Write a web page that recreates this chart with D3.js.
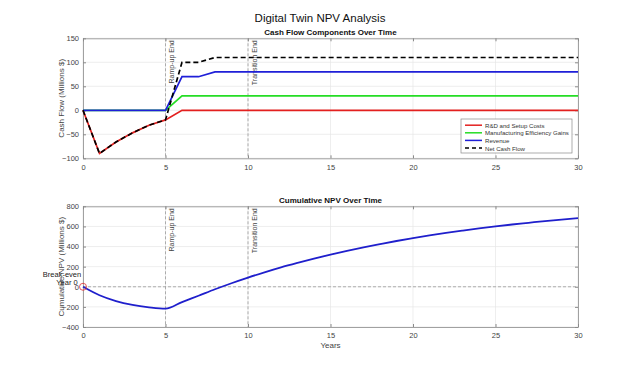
<!DOCTYPE html>
<html><head><meta charset="utf-8">
<script src="https://cdn.jsdelivr.net/npm/d3@7"></script>
<style>body{margin:0;background:#fff;} text{font-family:"Liberation Sans",Arial,Helvetica,sans-serif;}</style>
</head><body>
<svg id="c" width="640" height="367"></svg>
<script>
const years = d3.range(0, 31);
const rdCosts    = [0,-90,-66,-47,-31,-20,0,0,0,0,0,0,0,0,0,0,0,0,0,0,0,0,0,0,0,0,0,0,0,0,0];
const mfgGains   = [0,0,0,0,0,0,30,30,30,30,30,30,30,30,30,30,30,30,30,30,30,30,30,30,30,30,30,30,30,30,30];
const revenue    = [0,0,0,0,0,0,70,70,80,80,80,80,80,80,80,80,80,80,80,80,80,80,80,80,80,80,80,80,80,80,80];
const netCash    = [0,-90,-66,-47,-31,-20,100,100,110,110,110,110,110,110,110,110,110,110,110,110,110,110,110,110,110,110,110,110,110,110,110];
const cumNPV     = [0,-84,-142,-180,-204,-218,-152,-89,-25,35,91,143,192,237,280,320,357,392,424,455,483,510,535,558,580,600,619,636,653,668,683];
const xTicks = [0,5,10,15,20,25,30];
const yTicksTop = [-100,-50,0,50,100,150];
const yTicksBot = [-400,-200,0,200,400,600,800];
const markers = [{x:5,label:"Ramp-up End"},{x:10,label:"Transition End"}];
const seriesTop = [
  {name:"R&D and Setup Costs", values:rdCosts, color:"#e3201f", dash:null},
  {name:"Manufacturing Efficiency Gains", values:mfgGains, color:"#25dd25", dash:null},
  {name:"Revenue", values:revenue, color:"#1f1fd8", dash:null},
  {name:"Net Cash Flow", values:netCash, color:"#000", dash:"5,3"}
];

const svg = d3.select("#c");
const L = 83, R = 578;
const x = d3.scaleLinear().domain([0,30]).range([L,R]);

svg.append("text").attr("x",320).attr("y",22).attr("text-anchor","middle")
  .attr("font-size",11.5).attr("fill","#111").text("Digital Twin NPV Analysis");

function panel(top, bottom, yDomain, yTicks, title, ylabel, showXLabel){
  const y = d3.scaleLinear().domain(yDomain).range([bottom, top]);
  const g = svg.append("g");
  g.selectAll(".gx").data(xTicks).join("line").attr("x1",d=>x(d)).attr("x2",d=>x(d))
    .attr("y1",top).attr("y2",bottom).attr("stroke","#e6e6e6").attr("stroke-width",0.7);
  g.selectAll(".gy").data(yTicks).join("line").attr("y1",d=>y(d)).attr("y2",d=>y(d))
    .attr("x1",L).attr("x2",R).attr("stroke","#e6e6e6").attr("stroke-width",0.7);
  const ax = g.append("g").attr("transform",`translate(0,${bottom})`)
    .call(d3.axisBottom(x).tickValues(xTicks).tickSizeInner(-3).tickSizeOuter(0).tickPadding(6));
  const ay = g.append("g").attr("transform",`translate(${L},0)`)
    .call(d3.axisLeft(y).tickValues(yTicks).tickSizeInner(-3).tickSizeOuter(0).tickPadding(4));
  const ax2 = g.append("g").attr("transform",`translate(0,${top})`)
    .call(d3.axisTop(x).tickValues(xTicks).tickSizeInner(-3).tickSizeOuter(0).tickFormat(""));
  const ay2 = g.append("g").attr("transform",`translate(${R},0)`)
    .call(d3.axisRight(y).tickValues(yTicks).tickSizeInner(-3).tickSizeOuter(0).tickFormat(""));
  [ax,ay,ax2,ay2].forEach(a=>{
    a.select(".domain").attr("stroke","#8a8a8a").attr("stroke-width",0.8);
    a.selectAll(".tick line").attr("stroke","#8a8a8a");
    a.selectAll("text").attr("font-size",7.5).attr("fill","#444").attr("font-family",'"Liberation Sans",Arial,sans-serif');
  });
  g.append("text").attr("x",(L+R)/2).attr("y",top-3).attr("text-anchor","middle")
    .attr("font-size",8).attr("font-weight","bold").attr("fill","#111").text(title);
  g.append("text").attr("transform",`translate(${61},${(top+bottom)/2}) rotate(-90)`)
    .attr("text-anchor","middle").attr("dominant-baseline","central")
    .attr("font-size",8).attr("fill","#444").text(ylabel);
  if(showXLabel){
    g.append("text").attr("x",(L+R)/2).attr("y",bottom+21).attr("text-anchor","middle")
      .attr("font-size",8).attr("fill","#444").text("Years");
  }
  markers.forEach(m=>{
    g.append("line").attr("x1",x(m.x)).attr("x2",x(m.x)).attr("y1",top).attr("y2",bottom)
      .attr("stroke","#9a9a9a").attr("stroke-width",0.8).attr("stroke-dasharray","3,2");
    g.append("text").attr("transform",`translate(${x(m.x)+6},${top+2}) rotate(-90)`)
      .attr("text-anchor","end").attr("dominant-baseline","central")
      .attr("font-size",7).attr("fill","#444").text(m.label);
  });
  return {g,y};
}

const P1 = panel(38.3, 158.3, [-100,150], yTicksTop, "Cash Flow Components Over Time", "Cash Flow (Millions $)", false);
const line1 = d3.line().x((d,i)=>x(years[i])).y(d=>P1.y(d));
seriesTop.forEach(s=>{
  P1.g.append("path").attr("d",line1(s.values)).attr("fill","none")
    .attr("stroke",s.color).attr("stroke-width",1.7).attr("stroke-dasharray",s.dash);
});
const lg = P1.g.append("g");
lg.append("rect").attr("x",461).attr("y",119).attr("width",111).attr("height",34)
  .attr("fill","#fff").attr("stroke","#8a8a8a").attr("stroke-width",0.7);
seriesTop.forEach((s,i)=>{
  const yy = 125.2 + i*7.6;
  lg.append("line").attr("x1",465).attr("x2",482).attr("y1",yy).attr("y2",yy)
    .attr("stroke",s.color).attr("stroke-width",1.5).attr("stroke-dasharray",s.dash?"4,3":null);
  lg.append("text").attr("x",485).attr("y",yy).attr("dominant-baseline","central")
    .attr("font-size",6.1).attr("fill","#333").text(s.name);
});

const P2 = panel(206.3, 327, [-400,800], yTicksBot, "Cumulative NPV Over Time", "Cumulative NPV (Millions $)", true);
P2.g.append("line").attr("x1",L).attr("x2",R).attr("y1",P2.y(0)).attr("y2",P2.y(0))
  .attr("stroke","#9a9a9a").attr("stroke-width",0.8).attr("stroke-dasharray","3,2");
P2.g.append("path").attr("d",d3.line().x((d,i)=>x(years[i])).y(d=>P2.y(d)).curve(d3.curveMonotoneX)(cumNPV))
  .attr("fill","none").attr("stroke","#1f1fcc").attr("stroke-width",1.8);
P2.g.append("circle").attr("cx",x(0)).attr("cy",P2.y(0)).attr("r",3.5)
  .attr("fill","none").attr("stroke","#e03030").attr("stroke-width",0.8);
P2.g.append("text").attr("x",62).attr("y",P2.y(0)-12.5).attr("text-anchor","middle")
  .attr("dominant-baseline","central").attr("font-size",7.5).attr("fill","#222").text("Break-even");
P2.g.append("text").attr("x",67).attr("y",P2.y(0)-4.5).attr("text-anchor","middle")
  .attr("dominant-baseline","central").attr("font-size",7.5).attr("fill","#222").text("Year 0");
</script>
</body></html>
